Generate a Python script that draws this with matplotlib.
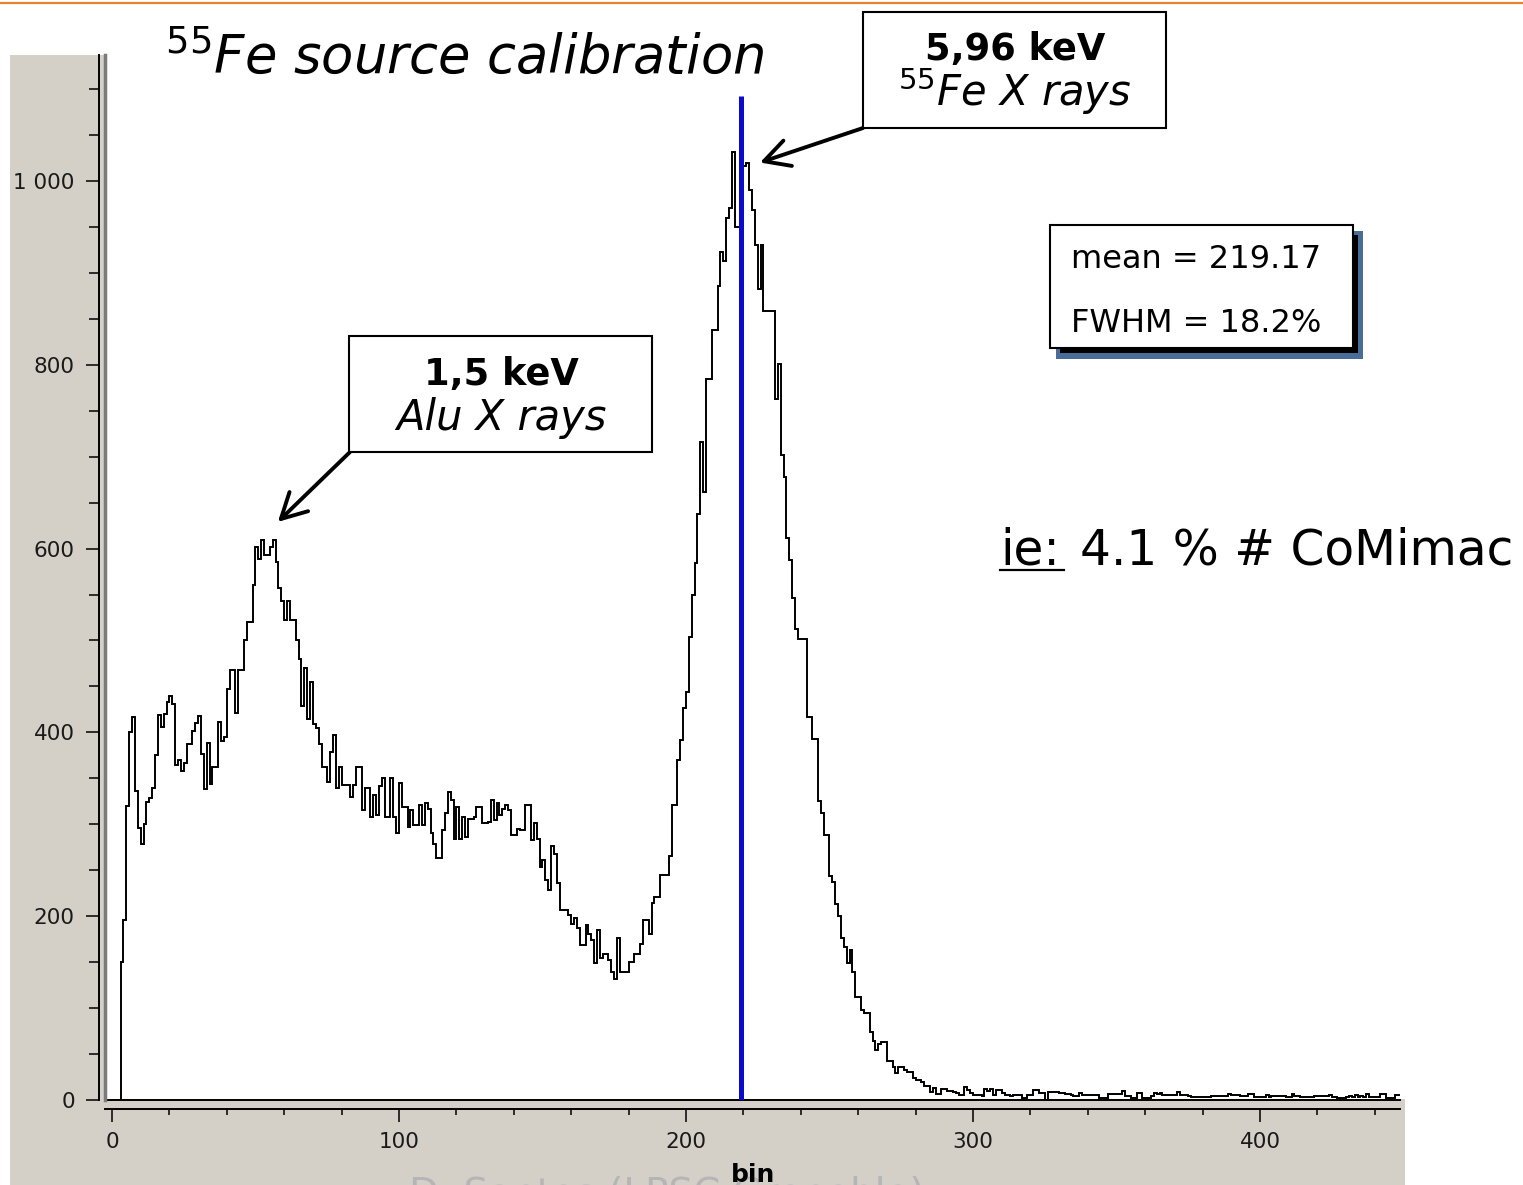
import numpy as np
import matplotlib.pyplot as plt
from matplotlib.patches import Rectangle
from matplotlib.lines import Line2D
from matplotlib.ticker import MultipleLocator, FuncFormatter

# Histogram counts per bin (bin width 1)
counts_low = [0, 0, 0, 150, 196, 320, 400, 417, 336, 296,
              278, 300, 324, 329, 340, 375, 419, 406, 420, 433,
              440, 431, 364, 370, 358, 367, 387, 387, 401, 410,
              418, 377, 338, 388, 344, 362, 362, 411, 391, 395,
              447, 468, 468, 421, 468, 468, 500, 520, 520, 560,
              602, 589, 609, 593, 593, 602, 609, 585, 557, 543,
              522, 543, 522, 522, 500, 480, 429, 470, 415, 455,
              409, 405, 387, 362, 362, 346, 379, 397, 340, 362,
              343, 343, 343, 330, 343, 362, 362, 316, 340, 340,
              308, 332, 310, 342, 350, 308, 308, 350, 308, 291]
counts_mid = [345, 319, 319, 297, 315, 299, 299, 321, 299, 323,
              317, 290, 279, 263, 263, 294, 312, 335, 326, 284,
              319, 284, 308, 286, 306, 306, 308, 319, 319, 301,
              301, 303, 326, 305, 323, 310, 317, 321, 315, 288,
              288, 295, 294, 294, 321, 321, 283, 301, 284, 254,
              261, 239, 229, 276, 268, 236, 207, 207, 207, 201,
              192, 198, 187, 169, 169, 190, 181, 174, 149, 185,
              155, 159, 159, 152, 139, 132, 176, 139, 139, 139,
              150, 150, 159, 159, 170, 196, 196, 181, 214, 221,
              221, 245, 245, 245, 266, 321, 321, 370, 392, 427]
counts_peak = [444, 504, 549, 584, 638, 716, 662, 784, 784, 838,
               838, 886, 923, 913, 960, 971, 1032, 950, 950, 1000,
               1016, 1020, 990, 968, 930, 882, 930, 859, 859, 859,
               859, 763, 801, 702, 678, 611, 587, 546, 512, 502,
               502, 502, 417, 417, 393, 393, 325, 312, 288, 288,
               244, 237, 213, 200, 176, 166, 149, 163, 139, 112,
               112, 98, 95, 95, 74, 64, 54, 61]
counts_tail = [63, 63, 42, 42, 36, 29, 36, 36, 33, 31,
               31, 24, 22, 22, 20, 15, 15, 9, 13, 7,
               7, 12, 12, 10, 10, 9, 8, 5, 5, 14,
               11, 8, 5, 5, 5, 4, 12, 10, 12, 5,
               11, 11, 8, 5, 5, 4, 5, 5, 5, 2,
               2, 5, 5, 11, 11, 8, 8, 0, 9, 9,
               9, 9, 8, 8, 7, 7, 5, 4, 4, 8,
               5, 5, 5, 5, 5, 5, 2, 2, 2, 7,
               7, 7, 7, 6, 10, 4, 4, 2, 2, 8,
               8, 2, 2, 2, 4, 8, 6, 8, 5, 5,
               5, 5, 5, 9, 5, 5, 5, 4, 3, 3,
               3, 3, 3, 3, 3, 4, 4, 4, 4, 4,
               4, 6, 5, 5, 5, 4, 4, 4, 6, 6,
               3, 3, 3, 3, 5, 3, 4, 4, 4, 4,
               4, 3, 3, 6, 4, 4, 3, 3, 3, 3,
               3, 4, 4, 4, 4, 4, 5, 3, 3, 2,
               2, 2, 3, 4, 3, 5, 3, 4, 3, 6,
               3, 3, 3, 3, 6, 6, 2, 2, 2, 5, 5]

counts = np.array(counts_low + counts_mid + counts_peak + counts_tail)
edges = np.arange(len(counts) + 1)

mean_bin = 219.17
fwhm_pct = 18.2
alu_peak = (57.8, 629)
fe_peak = (225.8, 1020)

W, H = 1523, 1185
fig = plt.figure(figsize=(W / 100, H / 100), dpi=100)
fig.patch.set_facecolor('white')


def fx(x):
    return x / W


def fy(y):
    return 1 - y / H


def box(x0, y0, x1, y1, **kw):
    fig.add_artist(Rectangle((fx(x0), fy(y1)), (x1 - x0) / W, (y1 - y0) / H,
                             transform=fig.transFigure, **kw))


# grey window panel (left strip + strip under the plot) and orange slide rule
box(10, 55, 106, 1185, fc='#d4d0c8', ec='none', zorder=-10)
box(10, 1099, 1405, 1185, fc='#d4d0c8', ec='none', zorder=-10)
fig.add_artist(Line2D([0, 1], [fy(3), fy(3)], transform=fig.transFigure,
                      color='#e8822e', lw=1.6))

ax = fig.add_axes([fx(105), 85 / H, 1295 / W, 1045 / H])
ax.set_facecolor('white')
ax.stairs(counts, edges, color='black', lw=1.4)
ax.vlines(mean_bin, 0, 1092, color='#0b0bcc', lw=3.6, zorder=3)
ax.set_xlim(-2.44, 448.8)
ax.set_ylim(0, 1137)

for s in ['top', 'right']:
    ax.spines[s].set_visible(False)
ax.spines['left'].set_position(('outward', 4.3))
ax.spines['bottom'].set_position(('outward', 6.5))
ax.spines['left'].set_linewidth(1.4)
ax.spines['bottom'].set_linewidth(1.4)
ax.plot([0, 1], [0, 0], transform=ax.transAxes, color='black', lw=1.4, clip_on=False)
ax.plot([0, 0], [0, 1], transform=ax.transAxes, color='#7a7a7a', lw=2.5, clip_on=False)

ax.xaxis.set_major_locator(MultipleLocator(100))
ax.xaxis.set_minor_locator(MultipleLocator(20))
ax.yaxis.set_major_locator(MultipleLocator(200))
ax.yaxis.set_minor_locator(MultipleLocator(50))
ax.yaxis.set_major_formatter(FuncFormatter(lambda v, p: f'{int(v):,}'.replace(',', ' ')))
ax.tick_params(which='both', direction='out', width=1.1, labelcolor='#1a1a1a', labelsize=15.5)
ax.tick_params(axis='y', which='major', length=9.4, pad=8)
ax.tick_params(axis='y', which='minor', length=7.5)
ax.tick_params(axis='x', which='major', length=9.4, pad=7)
ax.tick_params(axis='x', which='minor', length=4.5)

# axis label and cut-off credit line
fig.text(fx(667), fy(1176), 'D. Santos (LPSC Grenoble)', ha='center', va='top',
         fontsize=28, color='#b5b5b5')
fig.text(fx(753), fy(1182), 'bin', ha='center', va='baseline', fontsize=18, fontweight='bold')

# title
fig.text(fx(165), fy(73), r'$^{55}$Fe source calibration', fontsize=38, style='italic',
         va='baseline')

# peak labels
box(863, 12, 1166, 128, fc='white', ec='black', lw=1.5, zorder=4)
fig.text(fx(1015), fy(60), '5,96 keV', ha='center', va='baseline', fontsize=26.5,
         fontweight='bold', zorder=5)
fig.text(fx(1015), fy(106), r'$^{55}$Fe X rays', ha='center', va='baseline', fontsize=30,
         style='italic', zorder=5)

box(349, 336, 652, 452, fc='white', ec='black', lw=1.5, zorder=4)
fig.text(fx(501), fy(385), '1,5 keV', ha='center', va='baseline', fontsize=26.5,
         fontweight='bold', zorder=5)
fig.text(fx(501), fy(430), 'Alu X rays', ha='center', va='baseline', fontsize=30,
         style='italic', zorder=5)

arrow = dict(arrowstyle='->, head_length=0.6, head_width=0.32', lw=2.8, color='black',
             shrinkA=0, shrinkB=0, mutation_scale=30)
ax.annotate('', xy=fe_peak, xycoords='data', xytext=(fx(863), fy(128)),
            textcoords='figure fraction', arrowprops=arrow, annotation_clip=False)
ax.annotate('', xy=alu_peak, xycoords='data', xytext=(fx(350), fy(452)),
            textcoords='figure fraction', arrowprops=arrow, annotation_clip=False)

# stats box with shadow
box(1056, 231, 1363, 359, fc='#4a6d98', ec='none', zorder=4)
box(1060, 235, 1358, 353, fc='black', ec='none', zorder=4)
box(1050, 225, 1353, 348, fc='white', ec='black', lw=1.5, zorder=4)
fig.text(fx(1071), fy(268), f'mean = {mean_bin:.2f}', fontsize=23, va='baseline', zorder=5)
fig.text(fx(1071), fy(332), f'FWHM = {fwhm_pct:.1f}%', fontsize=23, va='baseline', zorder=5)

# side comment
fig.text(fx(1000), fy(565), 'ie:', fontsize=35, va='baseline')
fig.text(fx(1080), fy(565), '4.1 % # CoMimac', fontsize=35, va='baseline')
fig.add_artist(Line2D([fx(1000), fx(1064)], [fy(570), fy(570)], transform=fig.transFigure,
                      color='black', lw=1.6))

fig.savefig('out.png', dpi=100)
